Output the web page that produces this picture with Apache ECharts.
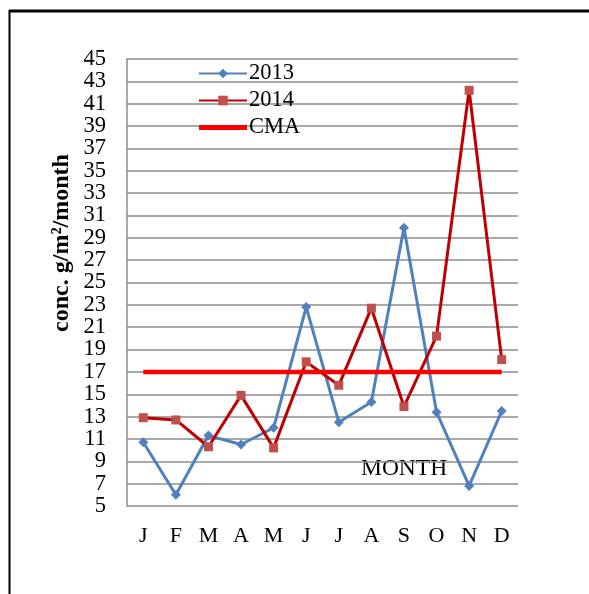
<!DOCTYPE html>
<html>
<head>
<meta charset="utf-8">
<script src="https://cdn.jsdelivr.net/npm/echarts@6/dist/echarts.min.js"></script>
<style>html,body{margin:0;padding:0;background:#fff;}#c{width:589px;height:594px;}</style>
</head>
<body>
<div id="c"></div>
<script>
var months = ['J','F','M','A','M','J','J','A','S','O','N','D'];
var s2013 = [10.7, 6.0, 11.3, 10.5, 12.0, 22.8, 12.5, 14.3, 29.9, 13.4, 6.8, 13.5];
var s2014 = [12.9, 12.7, 10.3, 14.9, 10.2, 17.9, 15.8, 22.7, 13.9, 20.2, 42.2, 18.1];
var cma = [17, 17, 17, 17, 17, 17, 17, 17, 17, 17, 17, 17];
var yMin = 5, yMax = 45, yStep = 2;

var font = '"Liberation Serif", "Times New Roman", serif';
var gTop = 59, gBottom = 88, gLeft = 127, gRight = 71;
var unitPx = (594 - gTop - gBottom) / (yMax - yMin);
var labelStyle = {fontFamily: font, fontSize: 22.5, color: '#000', margin: 21,
                  showMinLabel: true, showMaxLabel: true};
var chart = echarts.init(document.getElementById('c'), null, {renderer: 'canvas'});
chart.setOption({
  animation: false,
  backgroundColor: '#fff',
  textStyle: {fontFamily: font},
  grid: [
    {left: gLeft, right: gRight, top: gTop, bottom: gBottom},
    {left: gLeft, right: gRight, top: gTop + yStep * unitPx, bottom: gBottom + yStep * unitPx}
  ],
  legend: {
    orient: 'vertical', left: 193, top: 57,
    itemWidth: 48, itemHeight: 12, itemGap: 4,
    textStyle: {fontFamily: font, fontSize: 22.5, color: '#000', padding: [0,0,0,-3], lineHeight: 22},
    data: [
      {name: '2013'},
      {name: '2014'},
      {name: 'CMA', icon: 'path://M0,0H48V5H0Z'}
    ]
  },
  xAxis: [
    {type: 'category', data: months, boundaryGap: true, gridIndex: 0,
     axisLine: {show: false}, axisTick: {show: false},
     axisLabel: {fontFamily: font, fontSize: 22, color: '#000', margin: 19}},
    {type: 'category', data: months, gridIndex: 1, show: false}
  ],
  yAxis: [
    {type: 'value', gridIndex: 0, min: yMin, max: yMax, interval: yStep,
     axisLine: {show: true, lineStyle: {color: '#8c8c8c', width: 1.5}},
     axisTick: {show: false}, axisLabel: {show: false},
     splitLine: {lineStyle: {color: '#8c8c8c', width: 1.5}}},
    {type: 'value', gridIndex: 0, position: 'left', min: yMin, max: yMax, interval: yStep * 2,
     axisLine: {show: false}, axisTick: {show: false}, splitLine: {show: false},
     axisLabel: labelStyle},
    {type: 'value', gridIndex: 1, position: 'left', min: yMin + yStep, max: yMax - yStep, interval: yStep * 2,
     axisLine: {show: false}, axisTick: {show: false}, splitLine: {show: false},
     axisLabel: labelStyle}
  ],
  series: [
    {name: '2013', type: 'line', data: s2013, symbol: 'diamond', symbolSize: 10,
     lineStyle: {color: '#4f81bd', width: 3}, itemStyle: {color: '#4f81bd'}},
    {name: '2014', type: 'line', data: s2014, symbol: 'rect', symbolSize: 9,
     lineStyle: {color: '#c00000', width: 3}, itemStyle: {color: '#c0504d'}},
    {name: 'CMA', type: 'line', data: cma, symbol: 'none',
     lineStyle: {color: '#ff0000', width: 4.5}, itemStyle: {color: '#ff0000'}}
  ],
  graphic: [
    {type: 'line', shape: {x1: 9, y1: 11, x2: 589, y2: 11}, style: {stroke: '#000', lineWidth: 3}},
    {type: 'line', shape: {x1: 9.5, y1: 10, x2: 9.5, y2: 594}, style: {stroke: '#000', lineWidth: 2}},
    {type: 'text', x: 62, y: 243, rotation: Math.PI / 2,
     style: {text: 'conc. g/m²/month', fontFamily: font, fontSize: 24, fontWeight: 'bold', fill: '#000',
             textAlign: 'center', textVerticalAlign: 'middle'}},
    {type: 'text', x: 361, y: 469, style: {text: 'MONTH', fontFamily: font, fontSize: 23.5, fill: '#000',
             textAlign: 'left', textVerticalAlign: 'middle'}}
  ]
});
</script>
</body>
</html>
